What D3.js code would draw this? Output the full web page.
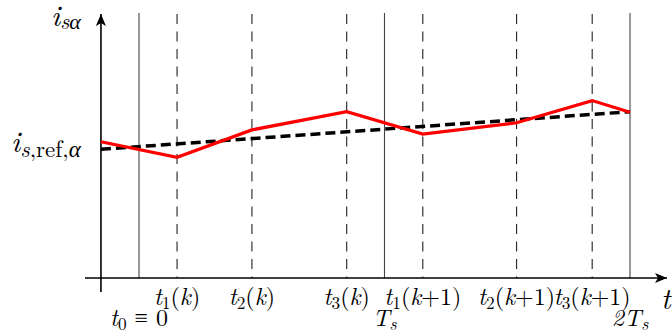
<!DOCTYPE html>
<html>
<head>
<meta charset="utf-8">
<script src="https://cdn.jsdelivr.net/npm/d3@7/dist/d3.min.js"></script>
<style>
  html, body { margin: 0; padding: 0; background: #fff; }
</style>
</head>
<body>
<svg id="chart" width="672" height="335"></svg>
<script>
// ---- data (time in units of Ts, current in arbitrary units) ----
const solidTimes  = [0, 1, 2];                       // t0, Ts, 2Ts
const dashedTimes = [0.155, 0.46, 0.846, 1.156, 1.538, 1.846];
const dashedLabels = [
  ["t", "1", "(k)"], ["t", "2", "(k)"], ["t", "3", "(k)"],
  ["t", "1", "(k+1)"], ["t", "2", "(k+1)"], ["t", "3", "(k+1)"]
];
const solidLabels = [["t", "0", " \u2261 0"], ["T", "s", ""], ["2T", "s", ""]];
const currentTimes  = [-0.155, 0.155, 0.46, 0.846, 1.156, 1.538, 1.846, 2];
const currentValues = [0.516, 0.457, 0.561, 0.630, 0.545, 0.588, 0.672, 0.628];
const refTimes  = [-0.155, 2];
const refValues = [0.4875, 0.630];

const FONT = "'Latin Modern Roman', 'Liberation Serif', serif";

// ---- layout ----
const svg = d3.select("#chart");
const x = d3.scaleLinear().domain([0, 2]).range([139, 630]);
const y = d3.scaleLinear().domain([0, 1]).range([278, 14]);
const x0 = x(-0.155); // y-axis position

const defs = svg.append("defs");
defs.append("marker").attr("id", "arr").attr("viewBox", "0 0 12 10")
  .attr("refX", 12).attr("refY", 5).attr("markerWidth", 12).attr("markerHeight", 10)
  .attr("markerUnits", "userSpaceOnUse").attr("orient", "auto")
  .append("path").attr("d", "M0,0 L12,5 L0,10 L3,5 Z").attr("fill", "#000");

// vertical solid lines
svg.selectAll(".vs").data(solidTimes).join("line")
  .attr("x1", d => x(d)).attr("x2", d => x(d))
  .attr("y1", 13).attr("y2", y(0))
  .attr("stroke", "#444").attr("stroke-width", 1.1);

// vertical dashed lines
svg.selectAll(".vd").data(dashedTimes).join("line")
  .attr("x1", d => x(d)).attr("x2", d => x(d))
  .attr("y1", 14).attr("y2", y(0))
  .attr("stroke", "#222").attr("stroke-width", 1.1)
  .attr("stroke-dasharray", "10,7.5");

// axes
svg.append("line").attr("x1", 85).attr("x2", 667).attr("y1", y(0)).attr("y2", y(0))
  .attr("stroke", "#000").attr("stroke-width", 1.6).attr("marker-end", "url(#arr)");
svg.append("line").attr("x1", x0).attr("x2", x0).attr("y1", 292).attr("y2", 14)
  .attr("stroke", "#000").attr("stroke-width", 1.6).attr("marker-end", "url(#arr)");

// reference (dashed black)
const line = d3.line().x(d => x(d[0])).y(d => y(d[1]));
svg.append("path").datum(d3.zip(refTimes, refValues)).attr("d", line)
  .attr("fill", "none").attr("stroke", "#000").attr("stroke-width", 3.5)
  .attr("stroke-dasharray", "10,5");

// current (red)
svg.append("path").datum(d3.zip(currentTimes, currentValues)).attr("d", line)
  .attr("fill", "none").attr("stroke", "#ff0000").attr("stroke-width", 3.2)
  .attr("stroke-linejoin", "miter");

// label helper: main italic, subscript, tail
function label(g, xc, yb, parts, size) {
  const t = g.append("text").attr("x", xc).attr("y", yb)
    .style("font-family", FONT)
    .attr("text-anchor", "middle").style("font-size", size + "px");
  t.append("tspan").style("font-style", "italic").text(parts[0]);
  t.append("tspan").style("font-size", (size * 0.72) + "px").attr("dy", size * 0.18)
    .style("font-style", /[a-z]/.test(parts[1]) ? "italic" : "normal").text(parts[1]);
  if (parts[2]) {
    let first = true, buf = "", it = false;
    const flush = () => {
      if (!buf) return;
      const ts = t.append("tspan").style("font-style", it ? "italic" : "normal").text(buf);
      if (first) { ts.attr("dy", -size * 0.18); first = false; }
      buf = "";
    };
    for (const ch of parts[2]) {
      const isL = /[a-z]/.test(ch);
      if (isL !== it) { flush(); it = isL; }
      buf += ch;
    }
    flush();
  }
  return t;
}

const g = svg.append("g");
dashedTimes.forEach((d, i) => label(g, x(d), 305, dashedLabels[i], 24));
solidTimes.forEach((d, i) => label(g, x(d), 326, solidLabels[i], 24));

// axis titles
g.append("text").attr("x", 661).attr("y", 309).style("font-size", "29px")
  .style("font-family", FONT).style("font-style", "italic").text("t");

const yl = g.append("text").attr("x", 51).attr("y", 26).style("font-size", "30px")
  .style("font-family", FONT);
yl.append("tspan").style("font-style", "italic").text("i");
yl.append("tspan").style("font-size", "22px").attr("dy", 3).style("font-style", "italic").text("s\u03b1");

const rl = g.append("text").attr("x", 11).attr("y", 152).style("font-size", "30px")
  .style("font-family", FONT);
rl.append("tspan").style("font-style", "italic").text("i");
rl.append("tspan").style("font-size", "23px").attr("dy", 5).style("font-style", "italic").text("s");
rl.append("tspan").style("font-size", "23px").text(",ref,");
rl.append("tspan").style("font-size", "23px").style("font-style", "italic").text("\u03b1");
</script>
</body>
</html>
